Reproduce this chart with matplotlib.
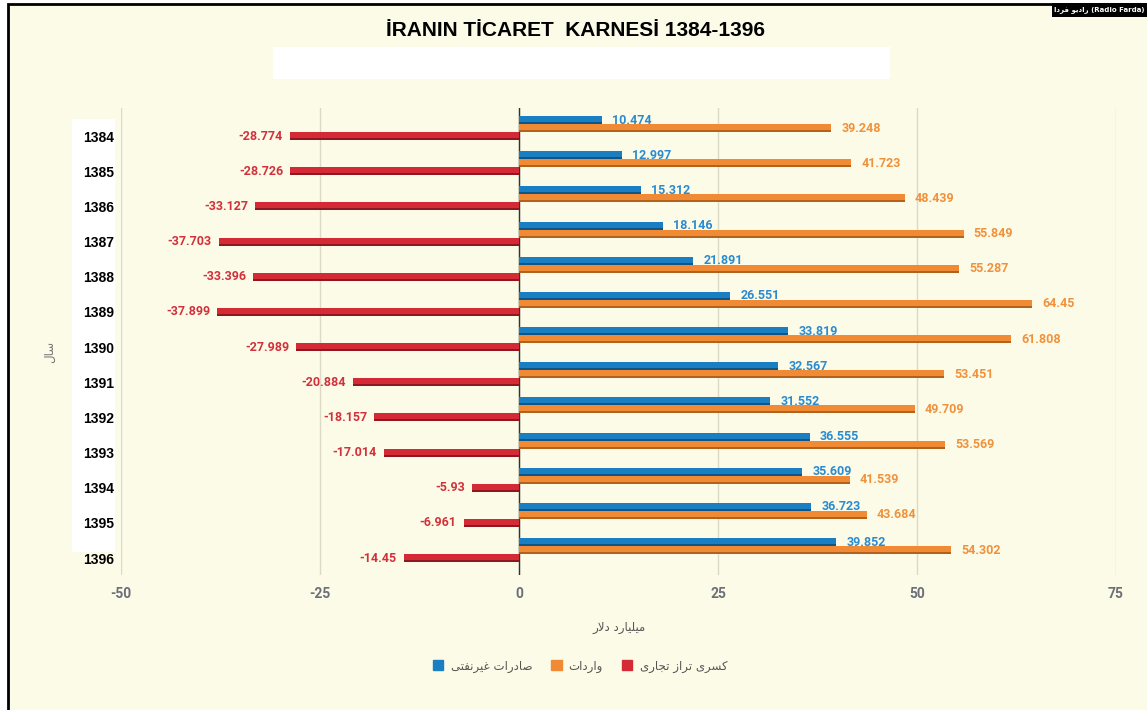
import matplotlib
matplotlib.use("Agg")
import matplotlib.pyplot as plt
from matplotlib.patches import Rectangle, Patch
import numpy as np

# ---------------- data ----------------
years = ["1384", "1385", "1386", "1387", "1388", "1389", "1390",
         "1391", "1392", "1393", "1394", "1395", "1396"]
exports_nonoil = [10.474, 12.997, 15.312, 18.146, 21.891, 26.551, 33.819,
                  32.567, 31.552, 36.555, 35.609, 36.723, 39.852]
imports = [39.248, 41.723, 48.439, 55.849, 55.287, 64.45, 61.808,
           53.451, 49.709, 53.569, 41.539, 43.684, 54.302]
trade_deficit = [-28.774, -28.726, -33.127, -37.703, -33.396, -37.899, -27.989,
                 -20.884, -18.157, -17.014, -5.93, -6.961, -14.45]
xticks = [-50, -25, 0, 25, 50, 75]

title = "İRANIN TİCARET  KARNESİ 1384-1396"
xlabel_fa = "میلیارد دلار"
ylabel_fa = "سال"
legend_fa = ["صادرات غیرنفتی", "واردات", "کسری تراز تجاری"]
source_fa = "رادیو فردا"

# ------------- simple Persian shaping (matplotlib has no bidi/shaping) -------------
FORMS = {
    'ا': ('\uFE8D', '\uFE8E', None, None),
    'ت': ('\uFE95', '\uFE96', '\uFE97', '\uFE98'),
    'ج': ('\uFE9D', '\uFE9E', '\uFE9F', '\uFEA0'),
    'د': ('\uFEA9', '\uFEAA', None, None),
    'ر': ('\uFEAD', '\uFEAE', None, None),
    'ز': ('\uFEAF', '\uFEB0', None, None),
    'س': ('\uFEB1', '\uFEB2', '\uFEB3', '\uFEB4'),
    'ص': ('\uFEB9', '\uFEBA', '\uFEBB', '\uFEBC'),
    'غ': ('\uFECD', '\uFECE', '\uFECF', '\uFED0'),
    'ف': ('\uFED1', '\uFED2', '\uFED3', '\uFED4'),
    'ل': ('\uFEDD', '\uFEDE', '\uFEDF', '\uFEE0'),
    'م': ('\uFEE1', '\uFEE2', '\uFEE3', '\uFEE4'),
    'ن': ('\uFEE5', '\uFEE6', '\uFEE7', '\uFEE8'),
    'و': ('\uFEED', '\uFEEE', None, None),
    'ک': ('\uFB8E', '\uFB8F', '\uFB90', '\uFB91'),
    'ی': ('\uFBFC', '\uFBFD', '\uFBFE', '\uFBFF'),
}


def shape(s):
    units, i = [], 0
    while i < len(s):
        if s[i] == 'ل' and i + 1 < len(s) and s[i + 1] == 'ا':
            units.append('LA'); i += 2
        else:
            units.append(s[i]); i += 1

    def dual(u):
        return u in FORMS and FORMS[u][2] is not None

    def joins(u):
        return u in FORMS or u == 'LA'

    out = []
    for k, u in enumerate(units):
        prev = units[k - 1] if k > 0 else None
        nxt = units[k + 1] if k + 1 < len(units) else None
        cp = prev is not None and dual(prev) and joins(u)
        if u == 'LA':
            out.append('\uFEFC' if cp else '\uFEFB'); continue
        if u not in FORMS:
            out.append(u); continue
        cn = dual(u) and nxt is not None and joins(nxt)
        iso, fin, ini, med = FORMS[u]
        if cp and cn:
            out.append(med)
        elif cp:
            out.append(fin)
        elif cn:
            out.append(ini)
        else:
            out.append(iso)
    return ''.join(reversed(out))


# ---------------- style ----------------
W, H = 1147, 710
cream = '#fcfbe7'
c_blue, c_blue_d = '#1a7ec3', '#0d5687'
c_orange, c_orange_d = '#f08a34', '#b3621d'
c_red, c_red_d = '#d42a36', '#8f1820'
lab_blue, lab_orange, lab_red = '#2a8bd0', '#f0913c', '#d2313c'
grey_txt = '#6b7078'

fig = plt.figure(figsize=(W / 100, H / 100), dpi=100)
fig.patch.set_facecolor('white')

# page background with black frame
fig.add_artist(Rectangle((8 / W, -0.05), 1.2, 1.05 - 4 / H, transform=fig.transFigure,
                         fc=cream, ec='black', lw=2, zorder=-3))
# white band under title
fig.add_artist(Rectangle((273 / W, 1 - 79 / H), (890 - 273) / W, 32 / H,
                         transform=fig.transFigure, fc='white', ec='none', zorder=-2))
# white box behind year labels
fig.add_artist(Rectangle((72 / W, 1 - 552 / H), (115 - 72) / W, (552 - 119) / H,
                         transform=fig.transFigure, fc='white', ec='none', zorder=-2))
# source badge
fig.add_artist(Rectangle((1052 / W, 1 - 17 / H), 0.2, 14 / H,
                         transform=fig.transFigure, fc='black', ec='none', zorder=-1))
fig.text(1145 / W, 1 - 10 / H, shape(source_fa) + " (Radio Farda)", color='white',
         fontsize=5.0, fontweight='bold', family=['DejaVu Sans'], ha='right', va='center')

fig.text(575 / W, 1 - 30 / H, title, ha='center', va='center', fontsize=15,
         fontweight='bold', family='Liberation Sans', color='black')

ax = fig.add_axes([121 / W, 1 - 575 / H, (1116 - 121) / W, (575 - 108) / H])
ax.set_facecolor('none')

y = np.arange(len(years))
step_px = 35.17
off = 8 / step_px
bh = 8 / step_px
sh = 2 / step_px

series = [
    (exports_nonoil, -off, c_blue, c_blue_d, lab_blue),
    (imports, 0.0, c_orange, c_orange_d, lab_orange),
    (trade_deficit, off, c_red, c_red_d, lab_red),
]
for vals, o, col, dcol, lcol in series:
    yy = y + o
    ax.barh(yy, vals, height=bh, color=col, zorder=3)
    ax.barh(yy + bh / 2 - sh / 2, vals, height=sh, color=dcol, zorder=3)
    for yi, v in zip(yy, vals):
        if v >= 0:
            ax.annotate(f"{v:g}", (v, yi), xytext=(10, 0), textcoords='offset pixels',
                        ha='left', va='center', color=lcol, fontsize=9,
                        fontweight='bold', family='Roboto', zorder=4)
        else:
            ax.annotate(f"{v:g}", (v, yi), xytext=(-7, 0), textcoords='offset pixels',
                        ha='right', va='center', color=lcol, fontsize=9,
                        fontweight='bold', family='Roboto', zorder=4)

ax.set_xlim(-50, 75)
ax.set_ylim((575 - 128) / step_px, (108 - 128) / step_px)
ax.set_xticks(xticks)
ax.set_xticklabels([str(t) for t in xticks])
ax.set_yticks(y + off)
ax.set_yticklabels(years)
ax.tick_params(axis='x', length=0, pad=9, labelsize=10, labelcolor=grey_txt)
ax.tick_params(axis='y', length=0, pad=5, labelsize=10, labelcolor='black')
for lb in ax.get_xticklabels():
    lb.set_fontfamily('Roboto'); lb.set_fontweight('bold')
for lb in ax.get_yticklabels():
    lb.set_fontfamily('Liberation Sans'); lb.set_fontweight('bold')
for s in ax.spines.values():
    s.set_visible(False)
ax.grid(axis='x', color='#dcd9c4', lw=1, zorder=0)
ax.grid(axis='y', visible=False)
ax.axvline(0, color='#333333', lw=1, zorder=2)

fig.text(619 / W, 1 - 628 / H, shape(xlabel_fa), ha='center', va='center',
         fontsize=8.5, color='#555555', family=['DejaVu Sans'])
fig.text(50 / W, 1 - 352 / H, shape(ylabel_fa), ha='center', va='center', rotation=90,
         fontsize=8.5, color='#777777', family=['DejaVu Sans'])

handles = [Patch(color=c_blue), Patch(color=c_orange), Patch(color=c_red)]
leg = fig.legend(handles, [shape(t) for t in legend_fa], ncol=3, loc='center',
                 bbox_to_anchor=(580 / W, 1 - 666 / H), frameon=False,
                 handlelength=0.9, handleheight=0.9, handletextpad=0.6,
                 columnspacing=1.6, prop={'family': ['DejaVu Sans'], 'size': 8.5})
for t in leg.get_texts():
    t.set_color('#555555')

fig.savefig('out.png', dpi=100, facecolor=fig.get_facecolor())
